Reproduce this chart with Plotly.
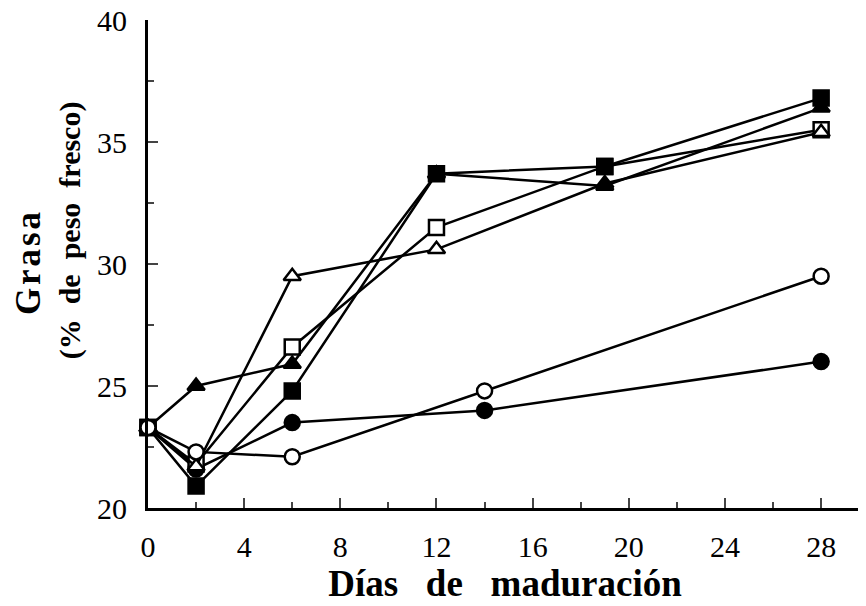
import plotly.graph_objects as go

# días de maduración y grasa (% de peso fresco) por serie
dias = [0, 2, 6, 12, 19, 28]
dias_circ = [0, 2, 6, 14, 28]

sq_fill = [23.3, 20.9, 24.8, 33.7, 34.0, 36.8]
sq_open = [23.3, 21.8, 26.6, 31.5, 34.0, 35.5]
tri_fill = [23.3, 25.0, 25.9, 33.7, 33.2, 36.4]
tri_open = [23.3, 21.7, 29.5, 30.6, 33.3, 35.4]
circ_fill = [23.3, 21.6, 23.5, 24.0, 26.0]
circ_open = [23.3, 22.3, 22.1, 24.8, 29.5]

x_ticks = [0, 4, 8, 12, 16, 20, 24, 28]
y_ticks = [20, 25, 30, 35, 40]

FONT = "Liberation Serif, Times New Roman, serif"

series = [
    (dias_circ, circ_fill, "circle", "black"),
    (dias, sq_open, "square", "white"),
    (dias, tri_open, "triangle-up", "white"),
    (dias, tri_fill, "triangle-up", "black"),
    (dias, sq_fill, "square", "black"),
    (dias_circ, circ_open, "circle", "white"),
]

fig = go.Figure()
for xs, ys, symbol, fill in series:
    fig.add_trace(
        go.Scatter(
            x=xs,
            y=ys,
            mode="lines+markers",
            line=dict(color="black", width=2.5),
            marker=dict(symbol=symbol, size=15, color=fill,
                        line=dict(color="black", width=2.5)),
            showlegend=False,
            cliponaxis=False,
        )
    )

# y title in two separately placed lines, letter-spaced like the original
sp = "\u200a"
fig.add_annotation(
    text="<b>" + sp.join("Grasa") + "</b>",
    textangle=-90, x=-0.168, y=0.50,
    xref="paper", yref="paper", xanchor="center", yanchor="middle",
    showarrow=False, font=dict(size=35, family=FONT),
)
fig.add_annotation(
    text="<b>(%\u00a0 de\u00a0 peso\u00a0 fresco)</b>",
    textangle=-90, x=-0.11, y=0.57,
    xref="paper", yref="paper", xanchor="center", yanchor="middle",
    showarrow=False, font=dict(size=30, family=FONT),
)

# the page body has an 8px margin, so the figure is a bit smaller
fig.update_layout(
    width=858,
    height=598,
    margin=dict(l=140, r=4, t=12, b=98, autoexpand=False),
    plot_bgcolor="white",
    paper_bgcolor="white",
    font=dict(family=FONT, color="black", size=30),
)
fig.update_xaxes(
    range=[0, 29.7],
    tickvals=x_ticks,
    ticks="inside",
    ticklen=10,
    tickwidth=2,
    showline=True,
    linewidth=3,
    linecolor="black",
    showgrid=False,
    zeroline=False,
    automargin=False,
    minor=dict(dtick=2, tick0=0, ticks="inside", ticklen=6, tickwidth=2),
    tickfont=dict(size=30),
    ticklabelstandoff=10,
    ticklabeloverflow="allow",
    title=dict(text="<b>Días\u00a0\u00a0 de\u00a0\u00a0 maduración</b>",
               font=dict(size=37), standoff=6),
)
fig.update_yaxes(
    range=[20, 40],
    tickvals=y_ticks,
    ticks="inside",
    ticklen=10,
    tickwidth=2,
    showline=True,
    linewidth=3,
    linecolor="black",
    showgrid=False,
    zeroline=False,
    automargin=False,
    minor=dict(dtick=2.5, tick0=20, ticks="inside", ticklen=6, tickwidth=2),
    tickfont=dict(size=30),
    ticklabelstandoff=12,
    ticklabeloverflow="allow",
)

fig.write_html("out.html")
